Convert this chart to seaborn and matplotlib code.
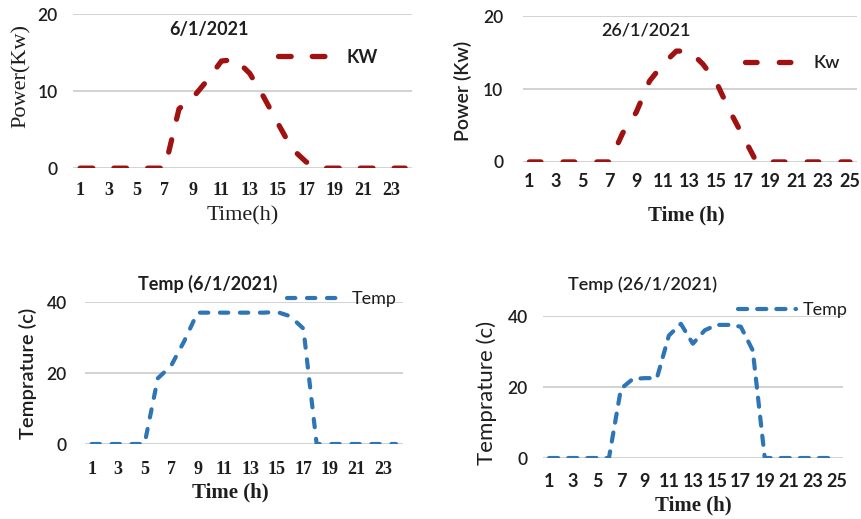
import matplotlib
matplotlib.use("Agg")
import matplotlib.pyplot as plt
import seaborn as sns
import pandas as pd

# ---------------- data ----------------
hours_a = list(range(1, 25))
hours_b = list(range(1, 26))
kw_a = [0, 0, 0, 0, 0, 0, 0, 7.7, 9.2, 11.4, 13.9, 14.1, 12.3, 9.2, 5.8, 2.5, 0.8,
        0, 0, 0, 0, 0, 0, 0]
kw_b = [0, 0, 0, 0, 0, 0, 0, 4.0, 6.8, 11.1, 13.4, 15.2, 15.2, 13.4, 10.9, 7.0, 3.5,
        0, 0, 0, 0, 0, 0, 0, 0]
temp_a = [0, 0, 0, 0, 0, 18.5, 22, 29, 37, 37, 37, 37, 37, 37, 37.2, 36, 32.5,
          0, 0, 0, 0, 0, 0, 0]
temp_b = [0, 0, 0, 0, 0, 0, 19.5, 22.3, 22.5, 22.5, 34.5, 37.8, 32.2, 36, 37.5, 37.5,
          37, 30.3, 0, 0, 0, 0, 0, 0, 0]

titles = ["6/1/2021", "26/1/2021", "Temp (6/1/2021)", "Temp (26/1/2021)"]
legend_labels = ["KW", "Kw", "Temp", "Temp"]
ylabels = ["Power(Kw)", "Power (Kw)", "Temprature (c)", "Temprature (c)"]
xlabels = ["Time(h)", "Time (h)", "Time (h)", "Time (h)"]
yticks_power = [0, 10, 20]
yticks_temp = [0, 20, 40]

RED = "#A01212"
BLUE = "#2E75B6"
TXT = "#1e1e1e"
SANS = ["Lato", "DejaVu Sans"]
SERIF = ["Liberation Serif", "DejaVu Serif"]

sns.set_theme(style="white")
plt.rcParams["font.family"] = SANS

fig = plt.figure(figsize=(8.61, 5.19), dpi=100)

panels = [
    dict(rect=[0.0848, 0.676, 0.394, 0.297], x=hours_a, y=kw_a, color=RED, lw=3.8,
         dash=(2.4, 4.0), yt=yticks_power, ylim=(0, 20), xmax=23,
         title_xy=(0.40, 0.90), title_w="bold",
         leg_xy=(0.605, 0.72), leg_w="bold", hl=3.4,
         ylab_xy=(-0.125, 0.60), ylab_font=SERIF, ylab_w="normal", ylab_size=16,
         xlab_xy=(0.5, -0.25), xlab_w="normal", xlab_size=16,
         ytick_pad=11, xtick_pad=10, xtick_font=SERIF),
    dict(rect=[0.607, 0.688, 0.388, 0.281], x=hours_b, y=kw_b, color=RED, lw=3.8,
         dash=(2.2, 4.2), yt=yticks_power, ylim=(0, 20), xmax=25,
         title_xy=(0.37, 0.90), title_w="semibold",
         leg_xy=(0.665, 0.678), leg_w="semibold", hl=3.4,
         ylab_xy=(-0.15, 0.49), ylab_font=SANS, ylab_w="semibold", ylab_size=14,
         xlab_xy=(0.49, -0.30), xlab_w="bold", xlab_size=15,
         ytick_pad=14, xtick_pad=8, xtick_font=SANS),
    dict(rect=[0.0987, 0.1445, 0.369, 0.2736], x=hours_a, y=temp_a, color=BLUE, lw=3.0,
         dash=(2.0, 2.8), yt=yticks_temp, ylim=(0, 40), xmax=23,
         title_xy=(0.387, 1.13), title_w="bold",
         leg_xy=(0.635, 1.02), leg_w="normal", hl=3.2,
         ylab_xy=(-0.15, 0.50), ylab_font=SANS, ylab_w="semibold", ylab_size=14.5,
         xlab_xy=(0.456, -0.27), xlab_w="bold", xlab_size=15,
         ytick_pad=13, xtick_pad=12, xtick_font=SERIF),
    dict(rect=[0.6307, 0.1175, 0.348, 0.2736], x=hours_b, y=temp_b, color=BLUE, lw=3.0,
         dash=(2.2, 2.4), yt=yticks_temp, ylim=(0, 40), xmax=25,
         title_xy=(0.333, 1.22), title_w="semibold",
         leg_xy=(0.65, 1.04), leg_w="normal", hl=3.2,
         ylab_xy=(-0.153, 0.46), ylab_font=SANS, ylab_w="normal", ylab_size=16,
         xlab_xy=(0.5, -0.265), xlab_w="bold", xlab_size=15,
         ytick_pad=11, xtick_pad=11, xtick_font=SANS),
]

for i, p in enumerate(panels):
    ax = fig.add_axes(p["rect"])
    df = pd.DataFrame({"hour": p["x"], "value": p["y"]})
    sns.lineplot(data=df, x="hour", y="value", ax=ax, color=p["color"],
                 linewidth=p["lw"], label=legend_labels[i])
    ln = ax.lines[-1]
    ln.set_linestyle((0, p["dash"]))
    ln.set_dash_capstyle("round")
    ln.set_solid_capstyle("round")

    ax.set_xlim(0.5, len(p["x"]) + 0.5)
    ax.set_ylim(*p["ylim"])
    ax.set_yticks(p["yt"])
    ax.set_xticks(list(range(1, p["xmax"] + 1, 2)))
    ax.set_xticklabels([str(v) for v in range(1, p["xmax"] + 1, 2)],
                       family=p["xtick_font"], fontweight="bold", fontsize=13, color=TXT)
    ax.set_yticklabels([str(v) for v in p["yt"]], family=SANS, fontweight="semibold",
                       fontsize=12.5, color=TXT)
    ax.tick_params(axis="y", length=0, pad=p["ytick_pad"])
    ax.tick_params(axis="x", length=0, pad=p["xtick_pad"])
    ax.grid(axis="y", color="#cfcfcf", linewidth=1.3)
    ax.grid(axis="x", visible=False)
    ax.set_axisbelow(True)
    for s in ax.spines.values():
        s.set_visible(False)
    ax.patch.set_alpha(0)

    ax.set_xlabel(xlabels[i], family=SERIF, fontweight=p["xlab_w"],
                  fontsize=p["xlab_size"], color=TXT)
    ax.xaxis.set_label_coords(*p["xlab_xy"])
    ax.set_ylabel(ylabels[i], family=p["ylab_font"], fontweight=p["ylab_w"],
                  fontsize=p["ylab_size"], color=TXT)
    ax.yaxis.set_label_coords(*p["ylab_xy"])

    ax.text(p["title_xy"][0], p["title_xy"][1], titles[i], transform=ax.transAxes,
            ha="center", va="center", fontsize=13, fontweight=p["title_w"],
            color=TXT, family=SANS)

    leg = ax.legend(loc="center left", bbox_to_anchor=p["leg_xy"], frameon=False,
                    borderpad=0, borderaxespad=0, handlelength=p["hl"],
                    handletextpad=0.4, prop=dict(family=SANS, weight=p["leg_w"], size=13))
    for t in leg.get_texts():
        t.set_color(TXT)

fig.savefig("out.png", dpi=100)
